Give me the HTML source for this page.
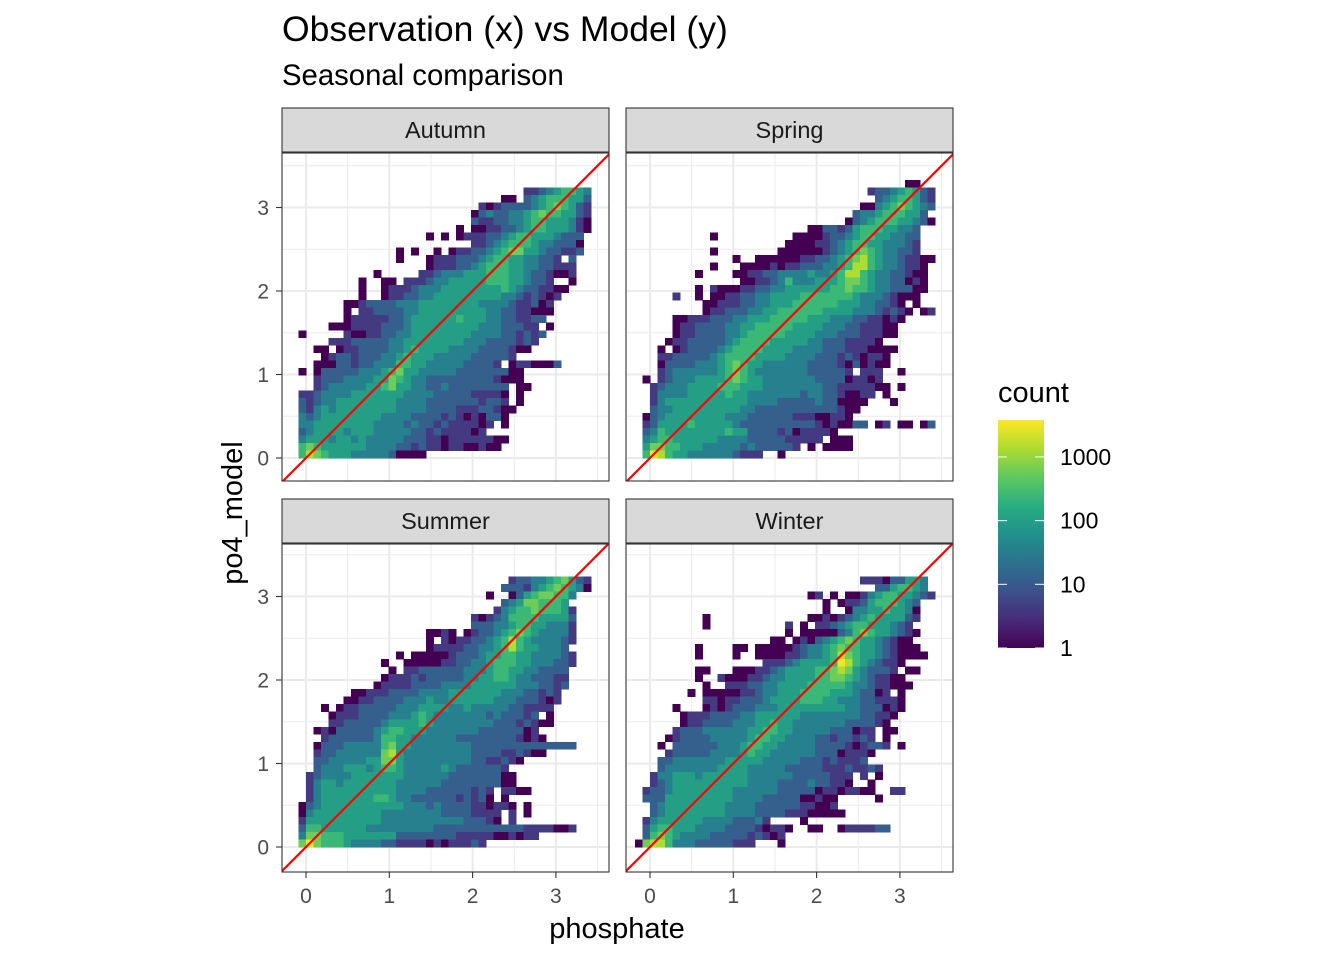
<!DOCTYPE html>
<html><head><meta charset="utf-8"><style>
html,body{margin:0;padding:0;background:#fff;}
svg{display:block;font-family:"Liberation Sans",Arial,sans-serif;}
</style></head><body>
<svg id="chart" width="1344" height="960" viewBox="0 0 1344 960" xmlns="http://www.w3.org/2000/svg">
<defs>
<linearGradient id="vir" x1="0" y1="1" x2="0" y2="0">
<stop offset="0" stop-color="#440154"/><stop offset="0.125" stop-color="#472d7b"/><stop offset="0.25" stop-color="#3b528b"/><stop offset="0.375" stop-color="#2c728e"/><stop offset="0.5" stop-color="#21918c"/><stop offset="0.625" stop-color="#28ae80"/><stop offset="0.75" stop-color="#5ec962"/><stop offset="0.875" stop-color="#addc30"/><stop offset="1" stop-color="#fde725"/>
</linearGradient>
</defs>
<text x="282" y="41" font-size="35.5" fill="#000">Observation (x) vs Model (y)</text>
<text x="282" y="85" font-size="29.3" fill="#000">Seasonal comparison</text>
<g id="panels"></g>
<text x="617" y="938" font-size="29" text-anchor="middle" fill="#000">phosphate</text>
<text transform="translate(242,513) rotate(-90)" font-size="29" text-anchor="middle" fill="#000">po4_model</text>
<g>
<text x="998" y="402" font-size="29" fill="#000">count</text>
<rect x="998" y="420" width="46" height="228" fill="url(#vir)"/>
<g id="legendTicks"></g>
</g>
</svg>
<script>
const NS = "http://www.w3.org/2000/svg";
// count associated with each cell code (0 = empty)
const countByCode = [0, 1, 4, 12, 35, 100, 250, 600, 1400, 3200];
const legendBreaks = [1, 10, 100, 1000];
const legendLabels = ["1", "10", "100", "1000"];
const axisTicks = [0, 1, 2, 3];
const axisTickLabels = ["0", "1", "2", "3"];
const seasons = ["Autumn", "Spring", "Summer", "Winter"];
const binWidth = 0.09;
const binOrigin = -0.09;
const maxCount = 3800;
// rows listed top to bottom; each "startColumn:codes"
const autumnRows = [
"30:223456654","27:11 30:345666553","24:212333345676532","23:1343344567665532","23:3223344566555421",
"21:101122334566555421","17:101012223345665554333","23:223456665443331","13:1010010122334567755433223",
"13:100012223334566554433203","17:12223345666554433222","10:100000223444555666554332112",
"8:10011022234455555666554332001","8:1001222344455555555654332211","8:100122334455555555544323212",
"6:1123333444555555554444322312","6:1022333344555555555443322111","6:122222334555555655544332233",
"4:111222233345555555554443332201","0:100000211223344555555554444332323","4:2223333344555555554443333232",
"2:11012233334456555544443333211","3:12332333445655544444333332","2:111332334446655444443333201221113",
"0:101333334445675544444333333311","2:2333444455765443333333332111","2:23444445567554433433333333011",
"0:223444455555554444333332222101","0:323445555555544443333333233201","0:32454555555554444333322233211",
"0:4345555555544443333232121331","0:4455555555444434332322221201","0:3455554555444443323222212",
"0:4555455454444433322122222211","0:676555555444433232212211211","0:68765554444431111"];
const springRows = [
"35:11","30:233456532","31:34566532","29:1145676543","28:3445666553","27:134566655431","22:113323566655443",
"9:1 20:11112334566554433","19:111122345665544432","9:1 18:1111112345676544332","12:100111111223345678654432211",
"9:1 13:1111212233344568865443221","7:1 12:11223344445445688654433211","13:1122346444555677654433121",
"7:1 9:2111 13:2233445555556676654433311","4:2 7:1 9:1122334455556666666544432111","8:11222334455566666655544332101",
"8:1223334455666666555544432321012","4:1122233344555666665554443322121","4:122333344556666655554443322211",
"4:122333344566666555544433322211","3:12233333456666555554433322221","2:1 4:123333456666555544443332221111",
"2:2233333456666555544443332321221","2:1333344456765544444433332131211","2:234444445676544444443333320222001",
"0:1 2:234445555676554444444333312212","1:2344455556665554444444433222221101","1:24444555556554444444344332112201",
"1:245555555555544443333343311110001","1:3445555555554433333333333211","0:1345555555544433333322211221",
"0:235555655555433333333332121133012011013","0:34655555555655333323122221","0:4566555555444433333222220111",
"0:5776655544444343333320101111","0:6986554444443222001"];
const summerRows = [
"28:23344567532","27:333245676541","25:100135677664","27:345776665","26:24566766652","23:21234666655553",
"23:33344566554442","17:11210123345676544442","17:10212233456865444432","17:1222233445686554443",
"13:101111123334556655444432","11:1 14:11111223344566655444332","12:1 14:2233333344456655443333",
"11:1222323333344556654433322","10:12222333344445555554443323","7:1122233334444555555544433232",
"6:11223333444544555555444333212","3:1012233333444555544544444332222","4:122233334445654444444343332301",
"4:223333345555654444444433323211","2:121333334566555444444433333312","3:233333346655444444333333332121",
"2:13334444467554444444433333333333333","2:2334444447854444444443333223211","2:3344444557754444444443322321",
"2:34445554566544444543333332","1:2344445555555444444333333311","1:2455455555554444443333333311",
"1:245555555555444433333323202211","1:245555555665443333332323101","0:1345555555555544434333322122101",
"0:1455555555544444444333322220201","0:25555555555444444444443332102","0:3665555554444444443333333333332222112",
"0:47766655555553333333322222112122","0:7976665444433222212122232"];
const winterRows = [
"29:222133554","31:3356654","22:12010112456655432","24:1012235666543","24:1001445565541",
"8:1 22:112123456555532","8:1 19:20102234566555432","19:101111134676554321","17:1101213456765543211",
"7:1 12:11 15:1111123445676655432111","7:1 12:1 15:11112234456876554321111","16:2223455556986543221",
"7:11 12:1112234555566787543332011","7:1 10:2111223445555667765432211","8:1 11:2223344555566666544322111",
"6:1 8:111112234455566665554331201","8:221223334555566655444332221","4:1 8:121233344455555555544333121",
"5:12223333445555554444444433221","5:1223333444556554444444333321","4:233344444455665544444333122011",
"3:1233334444456655444433233232 32:1","2:1 4:33333344456655444443333212332 34:1","3:2333334444565544444433312221",
"2:3344444445555544444333232223","2:344444445555444443333322232232","1:2445554555555444444333332220201",
"1:234555555555544443333433221001","0:23345555555544444433333122122110022","0:33355555555544443333311211000001",
"1:3455555555444433333322112","1:34555555554444333322211111","0:2455555544443334200001",
"0:356655544443333212210011001222233","0:3676544443333323212","-1:1 0:7886444333332220001"];
const seasonRows = [autumnRows, springRows, summerRows, winterRows];

const vir = ["#440154","#472d7b","#3b528b","#2c728e","#21918c","#28ae80","#5ec962","#addc30","#fde725"];
function hex(c){return [1,3,5].map(i=>parseInt(c.substr(i,2),16));}
function viridis(t){
  t=Math.max(0,Math.min(1,t)); const p=t*8, i=Math.min(7,Math.floor(p)), f=p-i;
  const a=hex(vir[i]), b=hex(vir[i+1]);
  return "rgb("+a.map((v,k)=>Math.round(v+(b[k]-v)*f)).join(",")+")";
}
function colorFor(count){return viridis(Math.log10(count)/Math.log10(maxCount));}
function el(tag, attrs, parent){const e=document.createElementNS(NS,tag);for(const k in attrs)e.setAttribute(k,attrs[k]);if(parent)parent.appendChild(e);return e;}

const panelsG = document.getElementById("panels");
const layout = [{x:282,y:153,zy:458},{x:626,y:153,zy:458},{x:282,y:544,zy:847},{x:626,y:544,zy:847}];
const PW=327, PH=328, UX=83.3, UY=83.5;

seasons.forEach((name, pi) => {
  const L = layout[pi];
  const xs = v => L.x + 24 + v*UX;
  const ys = v => L.zy - v*UY;
  const g = el("g", {}, panelsG);
  
  
  const clip = el("clipPath", {id:"clip"+pi}, g);
  el("rect", {x:L.x, y:L.y, width:PW, height:PH}, clip);
  el("rect", {x:L.x, y:L.y, width:PW, height:PH, fill:"#fff"}, g);
  const grid = el("g", {"clip-path":"url(#clip"+pi+")"}, g);
  [-0.5,0.5,1.5,2.5,3.5].forEach(v=>{
    el("line",{x1:xs(v),x2:xs(v),y1:L.y,y2:L.y+PH,stroke:"#ebebeb","stroke-width":1},grid);
    el("line",{y1:ys(v),y2:ys(v),x1:L.x,x2:L.x+PW,stroke:"#ebebeb","stroke-width":1},grid);
  });
  axisTicks.forEach(v=>{
    el("line",{x1:xs(v),x2:xs(v),y1:L.y,y2:L.y+PH,stroke:"#ebebeb","stroke-width":2},grid);
    el("line",{y1:ys(v),y2:ys(v),x1:L.x,x2:L.x+PW,stroke:"#ebebeb","stroke-width":2},grid);
  });
  const cells = el("g", {"clip-path":"url(#clip"+pi+")","shape-rendering":"crispEdges"}, g);
  const rows = seasonRows[pi];
  rows.forEach((row, ri) => {
    const yBin = rows.length - 1 - ri;
    row.trim().split(/\s+/).forEach(seg => {
      const [s, codes] = seg.split(":");
      const start = parseInt(s,10);
      for (let k=0;k<codes.length;k++){
        const code = +codes[k];
        if (!code) continue;
        const xv = binOrigin + (start+k)*binWidth;
        const yv = yBin*binWidth;
        const r = el("rect",{x:xs(xv).toFixed(2), y:ys(yv+binWidth).toFixed(2),
          width:(binWidth*UX+0.4).toFixed(2), height:(binWidth*UY+0.4).toFixed(2), fill:colorFor(countByCode[code])}, cells);
        
        
      }
    });
  });
  const ln = el("line",{x1:xs(-0.5),y1:ys(-0.5),x2:xs(4),y2:ys(4),stroke:"#ff0000","stroke-width":2.2,"clip-path":"url(#clip"+pi+")"}, g);
  
  
  el("rect",{x:L.x,y:L.y,width:PW,height:PH,fill:"none",stroke:"#333","stroke-width":1.1}, g);
  const sy = L.y - 45;
  const strip = el("rect",{x:L.x,y:sy,width:PW,height:44,fill:"#d9d9d9",stroke:"#333","stroke-width":1.1}, g);
  
  
  const st = el("text",{x:L.x+PW/2,y:sy+30,"font-size":23.5,"text-anchor":"middle",fill:"#1a1a1a"}, g);
  st.textContent = name;
  
  
  if (pi===0 || pi===2) {
    axisTicks.forEach((v,i)=>{
      el("line",{x1:L.x-6,x2:L.x,y1:ys(v),y2:ys(v),stroke:"#333","stroke-width":1.1}, g);
      const t = el("text",{x:L.x-13,y:ys(v)+7.5,"font-size":21,"text-anchor":"end",fill:"#4d4d4d"}, g);
      t.textContent = axisTickLabels[i];
      
      
    });
  }
  if (pi>=2) {
    axisTicks.forEach((v,i)=>{
      el("line",{x1:xs(v),x2:xs(v),y1:L.y+PH,y2:L.y+PH+6,stroke:"#333","stroke-width":1.1}, g);
      const t = el("text",{x:xs(v),y:L.y+PH+31,"font-size":21,"text-anchor":"middle",fill:"#4d4d4d"}, g);
      t.textContent = axisTickLabels[i];
      
      
    });
  }
});

// legend ticks
const lt = document.getElementById("legendTicks");
const legY = c => 648 - Math.log10(c)/Math.log10(maxCount)*228;
legendBreaks.forEach((c,i)=>{
  const y = legY(c);
  el("line",{x1:998,x2:1007,y1:y,y2:y,stroke:"#fff","stroke-width":1},lt);
  el("line",{x1:1035,x2:1044,y1:y,y2:y,stroke:"#fff","stroke-width":1},lt);
  const t = el("text",{x:1060,y:y+8,"font-size":23,fill:"#000"},lt);
  t.textContent = legendLabels[i];
  
  
});
</script>
</body></html>
